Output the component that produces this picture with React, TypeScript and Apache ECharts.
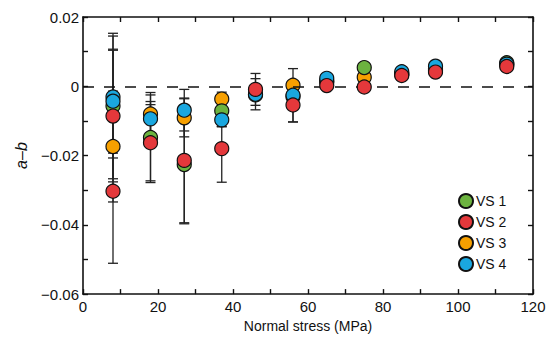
import React, { useEffect, useRef } from "react";
import * as echarts from "echarts";

const seriesNames = ["VS 1", "VS 2", "VS 3", "VS 4"];
const colors = ["#6cb33f", "#e4383b", "#f7a000", "#1aa7df"];

const vs1X = [8, 18, 27, 37, 46, 56, 65, 75, 85, 94, 113];
const vs1Y = [-0.0057, -0.0148, -0.0226, -0.0071, -0.0025, -0.003, 0.0015, 0.0054, 0.0035, 0.005, 0.0068];
const vs1Err = [0.021, 0.013, 0.0171, 0.0045, 0.001, 0.001, 0.001, 0.001, 0.001, 0.001, 0.001];

const vs2X = [8, 8, 18, 27, 37, 46, 56, 65, 75, 85, 94, 113];
const vs2Y = [-0.0086, -0.0303, -0.0163, -0.0214, -0.018, -0.0009, -0.0054, 0.0002, -0.0002, 0.0031, 0.0041, 0.0057];
const vs2Err = [0.019, 0.0208, 0.011, 0.018, 0.0097, 0.0046, 0.0049, 0.001, 0.001, 0.001, 0.001, 0.001];

const vs3X = [8, 18, 27, 37, 56, 65, 75, 85, 94, 113];
const vs3Y = [-0.0174, -0.008, -0.0091, -0.0037, 0.0003, 0.0012, 0.0026, 0.0035, 0.0045, 0.0062];
const vs3Err = [0.016, 0.0055, 0.0055, 0.002, 0.001, 0.001, 0.001, 0.001, 0.001, 0.001];

const vs4X = [8, 8, 18, 27, 37, 46, 56, 65, 85, 94, 113];
const vs4Y = [-0.0031, -0.0043, -0.0094, -0.0069, -0.0097, -0.0023, -0.0026, 0.0023, 0.0042, 0.0058, 0.0064];
const vs4Err = [0.0176, 0.015, 0.005, 0.006, 0.002, 0.0045, 0.0077, 0.001, 0.001, 0.001, 0.001];

const allX = [vs1X, vs2X, vs3X, vs4X];
const allY = [vs1Y, vs2Y, vs3Y, vs4Y];
const allErr = [vs1Err, vs2Err, vs3Err, vs4Err];
// drawing order (z): orange < green < blue < red
const zOrder = [4, 6, 3, 5];

const FONT = "Liberation Sans, Arial, Helvetica, sans-serif";

function fmtY(v: number) {
  const r = Math.round(v * 100);
  if (Math.abs(r) % 2 !== 0) return "";
  if (r === 0) return "0";
  const s = (Math.abs(r) / 100).toFixed(2);
  return r < 0 ? "\u2212" + s : s;
}

export default function App() {
  const ref = useRef<HTMLDivElement>(null);
  useEffect(() => {
    if (!ref.current) return;
    const chart = echarts.init(ref.current, null, { renderer: "svg" });

    const errData: number[][] = [];
    allX.forEach((xs, si) => {
      xs.forEach((x, i) => {
        errData.push([x, allY[si][i] - allErr[si][i], allY[si][i] + allErr[si][i]]);
      });
    });

    const axisLine = { show: true, onZero: false, lineStyle: { color: "#111", width: 1.6 } };
    const axisTick = { show: true, inside: true, length: 5, lineStyle: { color: "#111", width: 1.4 } };

    const option: any = {
      animation: false,
      backgroundColor: "#fff",
      textStyle: { fontFamily: FONT },
      grid: { left: 83, right: 16, top: 17, bottom: 40, containLabel: false },
      legend: {
        data: seriesNames,
        orient: "vertical",
        left: 453,
        top: 188,
        itemWidth: 14,
        itemHeight: 14,
        itemGap: 5,
        icon: "circle",
        textStyle: { fontSize: 14, color: "#111", fontFamily: FONT, padding: [0, 0, 0, -2] },
      },
      xAxis: [
        {
          type: "value",
          min: 0,
          max: 120,
          interval: 10,
          position: "bottom",
          name: "Normal stress (MPa)",
          nameLocation: "middle",
          nameGap: 23,
          nameTextStyle: { fontSize: 14, color: "#111", fontFamily: FONT },
          axisLine,
          axisTick,
          splitLine: { show: false },
          axisLabel: {
            fontSize: 15,
            color: "#111",
            margin: 5,
            fontFamily: FONT,
            formatter: (v: number) => (Math.round(v) % 20 === 0 ? String(Math.round(v)) : ""),
          },
        },
        {
          type: "value",
          min: 0,
          max: 120,
          interval: 10,
          position: "top",
          axisLine,
          axisTick,
          splitLine: { show: false },
          axisLabel: { show: false },
        },
      ],
      yAxis: [
        {
          type: "value",
          min: -0.06,
          max: 0.02,
          interval: 0.01,
          position: "left",
          name: "a\u2013b",
          nameLocation: "middle",
          nameGap: 54,
          nameRotate: 90,
          nameTextStyle: { fontSize: 16, color: "#111", fontStyle: "italic", fontFamily: FONT },
          axisLine,
          axisTick,
          splitLine: { show: false },
          axisLabel: { fontSize: 15, color: "#111", margin: 4, fontFamily: FONT, formatter: fmtY },
        },
        {
          type: "value",
          min: -0.06,
          max: 0.02,
          interval: 0.01,
          position: "right",
          axisLine,
          axisTick,
          splitLine: { show: false },
          axisLabel: { show: false },
        },
      ],
      series: [
        {
          type: "custom",
          name: "errors",
          z: 2,
          silent: true,
          data: errData,
          renderItem: (params: any, api: any) => {
            const x = api.value(0);
            const lo = api.coord([x, api.value(1)]);
            const hi = api.coord([x, api.value(2)]);
            const cw = 5;
            const style = { stroke: "#222", lineWidth: 1.3 };
            return {
              type: "group",
              children: [
                { type: "line", shape: { x1: lo[0], y1: lo[1], x2: hi[0], y2: hi[1] }, style },
                { type: "line", shape: { x1: lo[0] - cw, y1: lo[1], x2: lo[0] + cw, y2: lo[1] }, style },
                { type: "line", shape: { x1: hi[0] - cw, y1: hi[1], x2: hi[0] + cw, y2: hi[1] }, style },
              ],
            };
          },
          markLine: {
            silent: true,
            symbol: "none",
            label: { show: false },
            lineStyle: { color: "#111", width: 1.6, type: [11, 10] },
            data: [{ yAxis: 0 }],
          },
        },
        ...seriesNames.map((name, si) => ({
          type: "scatter",
          name,
          z: zOrder[si],
          symbol: "circle",
          symbolSize: 14,
          itemStyle: { color: colors[si], borderColor: "#111", borderWidth: 1.2, opacity: 1 },
          data: allX[si].map((x, i) => [x, allY[si][i]]),
        })),
      ],
    };
    chart.setOption(option);
    return () => chart.dispose();
  }, []);
  return (
    <div
      ref={ref}
      style={{ position: "fixed", left: 0, top: 0, width: 549, height: 338 }}
    />
  );
}
